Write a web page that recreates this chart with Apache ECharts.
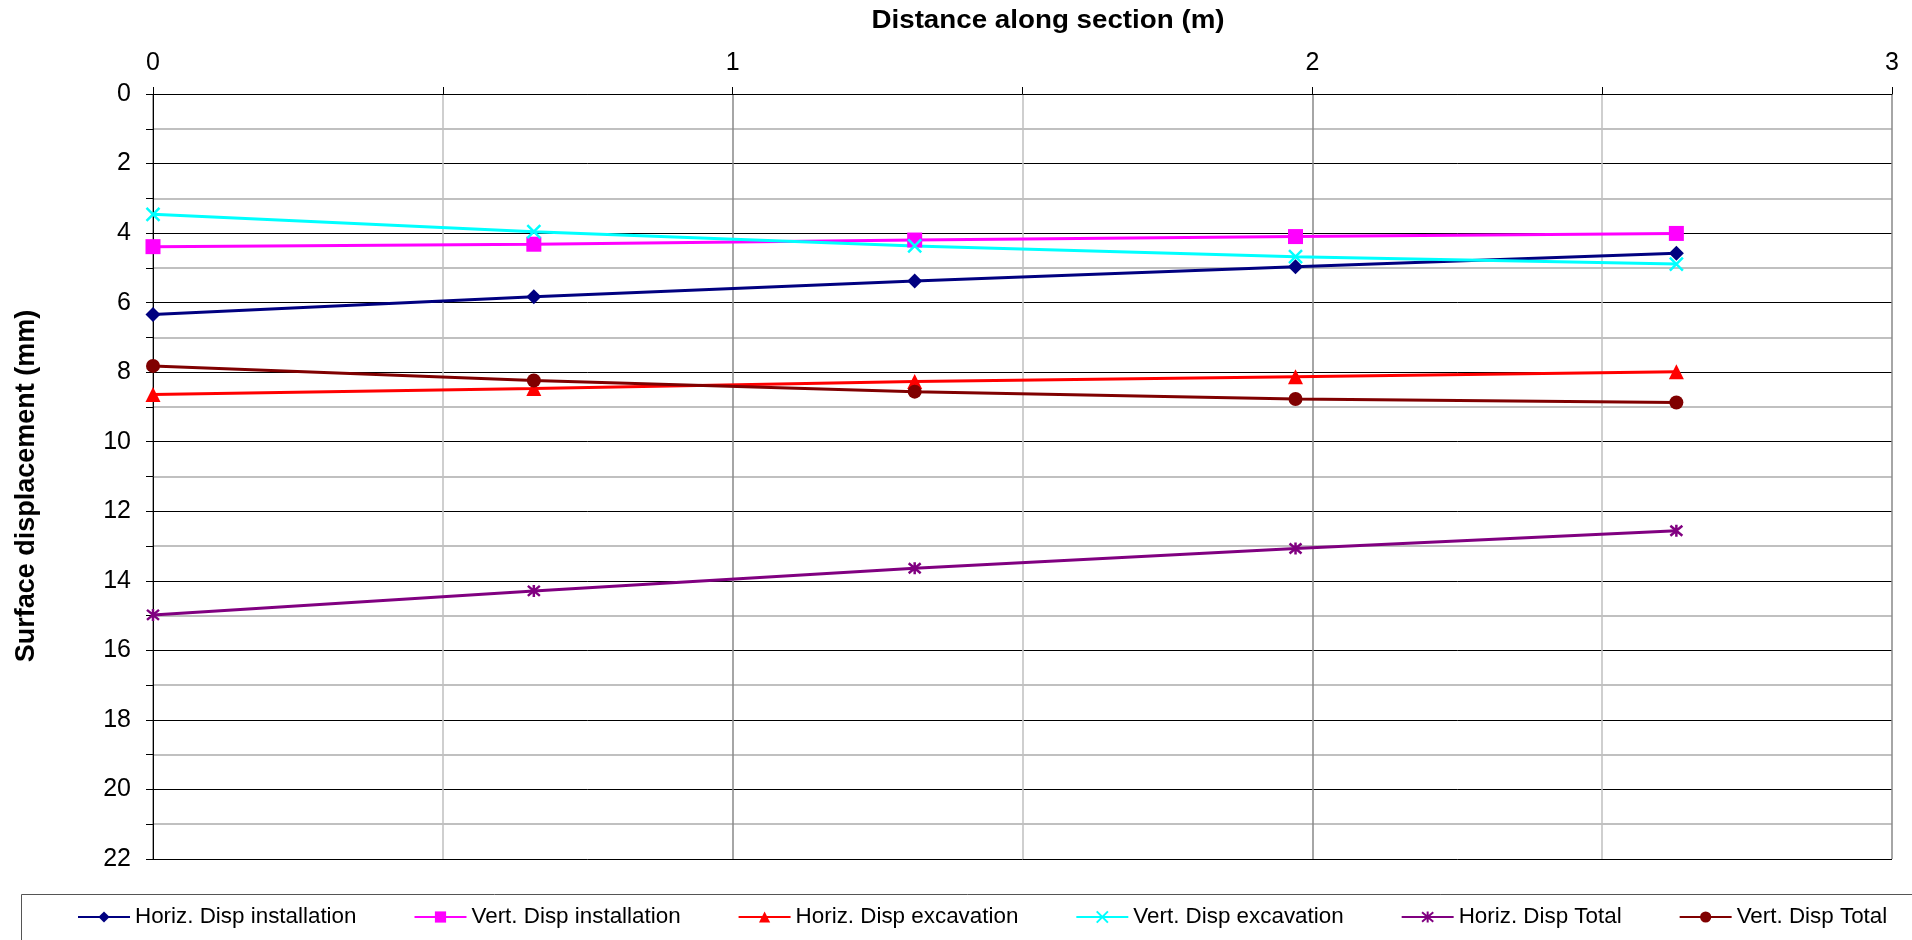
<!DOCTYPE html>
<html>
<head>
<meta charset="utf-8">
<script src="https://cdn.jsdelivr.net/npm/echarts@6/dist/echarts.min.js"></script>
<style>html,body{margin:0;padding:0;background:#fff;}#chart{width:1912px;height:940px;}</style>
</head>
<body>
<div id="chart"></div>
<script>
// Distance along section (m)
var distances = [0, 0.657, 1.314, 1.971, 2.628];
// Surface displacement (mm)
var horizInstallation = [6.34, 5.83, 5.38, 4.97, 4.58];
var vertInstallation  = [4.39, 4.32, 4.20, 4.10, 4.01];
var horizExcavation   = [8.64, 8.47, 8.27, 8.13, 7.99];
var vertExcavation    = [3.46, 3.96, 4.37, 4.68, 4.89];
var horizTotal        = [14.98, 14.29, 13.64, 13.07, 12.56];
var vertTotal         = [7.82, 8.24, 8.56, 8.77, 8.87];
var seriesNames = ['Horiz. Disp installation', 'Vert. Disp installation', 'Horiz. Disp excavation',
                   'Vert. Disp excavation', 'Horiz. Disp Total', 'Vert. Disp Total'];
var xTitle = 'Distance along section (m)';
var yTitle = 'Surface displacement (mm)';

function pairs(vals) { return distances.map(function (d, i) { return [d, vals[i]]; }); }

var FONT = "'Liberation Sans', Arial, sans-serif";
var xMark = 'path://M0,0L10,10M10,0L0,10';
var starMark = 'path://M0,0L10,10M10,0L0,10M5,-1L5,11';

function mk(name, vals, color, symbol, size, stroke) {
  var s = {
    name: name, type: 'line', data: pairs(vals),
    symbol: symbol, symbolSize: size, showSymbol: true,
    lineStyle: { color: color, width: 3 },
    itemStyle: { color: color },
    emphasis: { disabled: true },
    animation: false
  };
  if (stroke) {
    s.itemStyle = { color: 'rgba(0,0,0,0)', borderColor: color, borderWidth: 2.5 };
  }
  return s;
}

var chart = echarts.init(document.getElementById('chart'), null, { renderer: 'canvas' });
chart.setOption({
  backgroundColor: '#fff',
  animation: false,
  textStyle: { fontFamily: FONT },
  grid: { left: 153, right: 20, top: 94, bottom: 81, containLabel: false },
  xAxis: {
    type: 'value', position: 'top', min: 0, max: 3, interval: 1,
    axisLine: { show: true, lineStyle: { color: '#000', width: 1 } },
    axisTick: { show: true, inside: false, length: 7, lineStyle: { color: '#000' } },
    minorTick: { show: true, splitNumber: 2, length: 7, lineStyle: { color: '#000' } },
    axisLabel: { color: '#000', fontSize: 25, fontFamily: FONT, margin: 18 },
    splitLine: { show: true, lineStyle: { color: '#888', width: 1.5 } },
    minorSplitLine: { show: true, lineStyle: { color: '#c0c0c0', width: 1.5 } }
  },
  yAxis: {
    type: 'value', inverse: true, min: 0, max: 22, interval: 2,
    axisLine: { show: true, onZero: false, lineStyle: { color: '#000', width: 1 } },
    axisTick: { show: true, inside: false, length: 7, lineStyle: { color: '#000' } },
    minorTick: { show: true, splitNumber: 2, length: 7, lineStyle: { color: '#000' } },
    axisLabel: { color: '#000', fontSize: 25, fontFamily: FONT, margin: 22 },
    splitLine: { show: true, lineStyle: { color: '#000', width: 1 } },
    minorSplitLine: { show: true, lineStyle: { color: '#c0c0c0', width: 2 } }
  },
  legend: {
    show: true, left: 77, top: 906, padding: 0,
    itemWidth: 52, itemHeight: 14, itemGap: 57,
    textStyle: { color: '#000', fontSize: 22.4, fontFamily: FONT },
    data: seriesNames
  },
  graphic: [
    { type: 'rect', shape: { x: 21.5, y: 894.5, width: 1900, height: 60 },
      style: { fill: 'none', stroke: '#555', lineWidth: 1 }, z: -1 },
    { type: 'text', x: 1048, y: 21, scaleX: 1.11,
      style: { text: xTitle, fontSize: 25, fontWeight: 'bold', fontFamily: FONT, fill: '#000', align: 'center', verticalAlign: 'middle' } },
    { type: 'text', x: 27, y: 486, rotation: Math.PI / 2,
      style: { text: yTitle, fontSize: 27, fontWeight: 'bold', fontFamily: FONT, fill: '#000', align: 'center', verticalAlign: 'middle' } }
  ],
  series: [
    mk(seriesNames[0], horizInstallation, '#000080', 'diamond', 15, false),
    mk(seriesNames[1], vertInstallation, '#ff00ff', 'rect', 15, false),
    mk(seriesNames[2], horizExcavation, '#ff0000', 'triangle', 15, false),
    mk(seriesNames[3], vertExcavation, '#00ffff', xMark, 13, true),
    mk(seriesNames[4], horizTotal, '#800080', starMark, 12, true),
    mk(seriesNames[5], vertTotal, '#800000', 'circle', 14, false)
  ]
});
</script>
</body>
</html>
